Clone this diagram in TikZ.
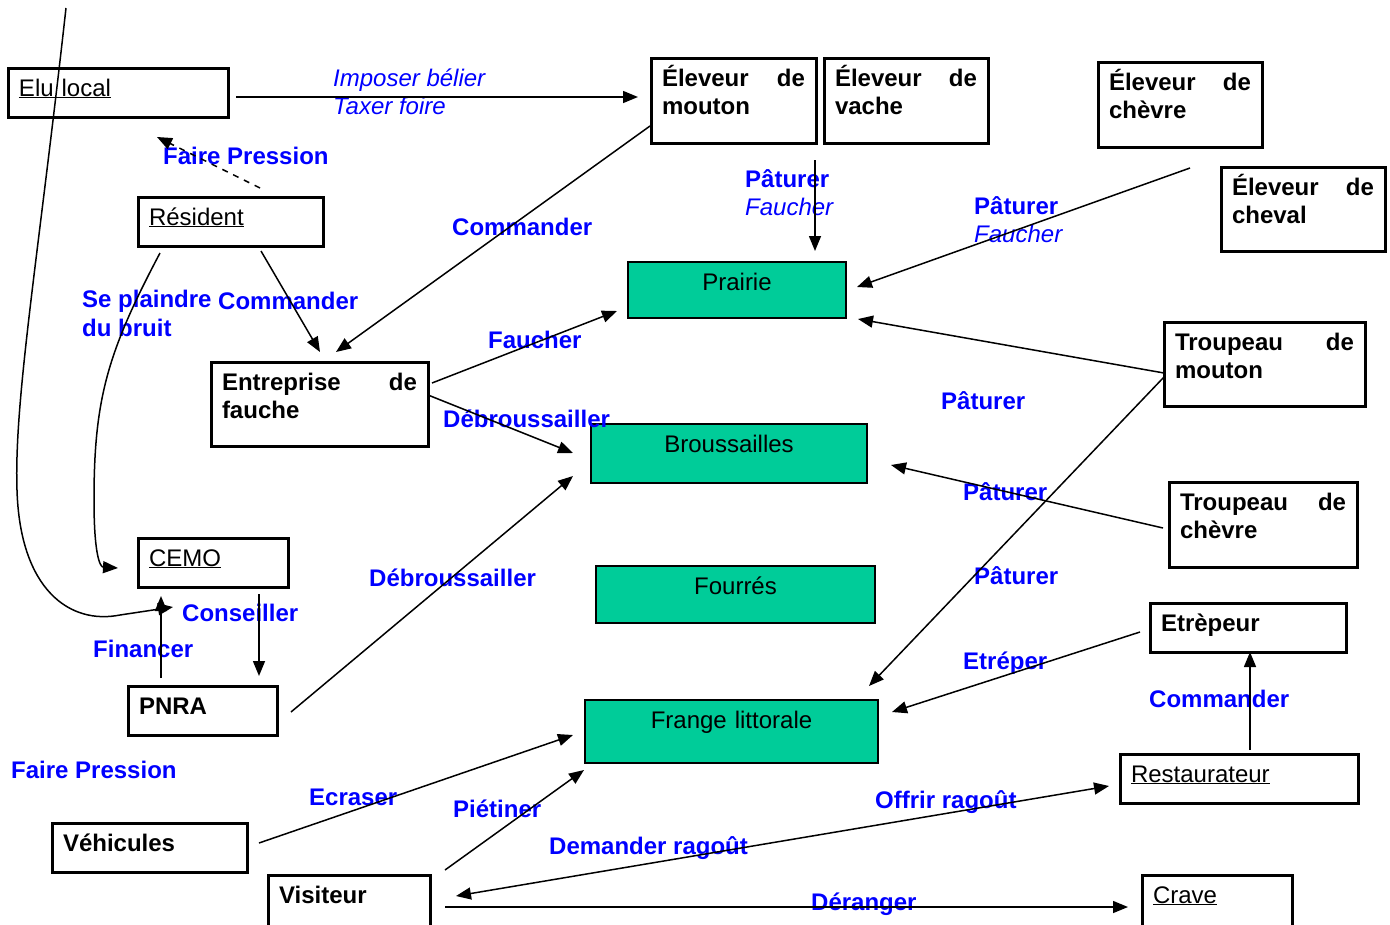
\documentclass[tikz,border=0pt]{standalone}
\usepackage{fontspec}
\setmainfont{Liberation Sans}
\usetikzlibrary{arrows.meta,calc}
\definecolor{gfill}{RGB}{0,204,153}
\definecolor{lblue}{RGB}{0,0,255}
\begin{document}
\begin{tikzpicture}[x=1pt,y=-1pt,
  every node/.style={font=\fontsize{24}{28}\selectfont},
  box/.style={draw, line width=3pt, anchor=north west, outer sep=0pt, inner xsep=11pt, inner ysep=0pt, align=left, text height=28pt},
  bbox/.style={box, font=\fontsize{24}{28}\selectfont\bfseries},
  gbox/.style={draw, fill=gfill, line width=1.8pt, anchor=north west, outer sep=0pt, inner xsep=11pt, inner ysep=0pt, align=center, text height=28pt},
  lbl/.style={text=lblue, font=\fontsize{24}{29}\selectfont\bfseries, anchor=base west, inner sep=0pt, align=left},
  ilbl/.style={text=lblue, font=\fontsize{24}{28}\selectfont\itshape, anchor=base west, inner sep=0pt},
  conn/.style={line width=1.5pt, -{Triangle[length=15pt,width=12pt]}},
  dconn/.style={line width=1.5pt, {Triangle[length=15pt,width=12pt]}-{Triangle[length=15pt,width=12pt]}},
]
\useasboundingbox (0,0) rectangle (1390,924);

% boxes
\node[box, text width=198pt, text depth=21pt] (elu) at (8,68) {\underline{Elu local}};
\node[box, text width=163pt, text depth=21pt] (res) at (138,197) {\underline{Résident}};
\node[bbox, text width=195pt, text depth=56pt] (ent) at (211,362) {Entreprise\hfill de\\fauche};
\node[box, text width=128pt, text depth=21pt] (cemo) at (138,538) {\underline{CEMO}};
\node[bbox, text width=127pt, text depth=21pt] (pnra) at (128,686) {PNRA};
\node[bbox, text width=173pt, text depth=21pt] (veh) at (52,823) {Véhicules};
\node[bbox, text width=140pt, text depth=32pt] (vis) at (268,875) {Visiteur};
\node[bbox, text width=143pt, text depth=57pt] (emou) at (651,58) {Éleveur\hfill de\\mouton};
\node[bbox, text width=142pt, text depth=57pt] (evac) at (824,58) {Éleveur\hfill de\\vache};
\node[bbox, text width=142pt, text depth=57pt] (eche) at (1098,62) {Éleveur\hfill de\\chèvre};
\node[bbox, text width=142pt, text depth=56pt] (echl) at (1221,167) {Éleveur\hfill de\\cheval};
\node[bbox, text width=179pt, text depth=56pt] (tmou) at (1164,322) {Troupeau\hfill de\\mouton};
\node[bbox, text width=166pt, text depth=57pt] (tche) at (1169,482) {Troupeau\hfill de\\chèvre};
\node[bbox, text width=174pt, text depth=21pt] (etr) at (1150,603) {Etrèpeur};
\node[box, text width=216pt, text depth=21pt] (rest) at (1120,754) {\underline{Restaurateur}};
\node[box, text width=128pt, text depth=32pt] (crave) at (1142,875) {\underline{Crave}};
\node[gbox, text width=196pt, text depth=28pt] (prai) at (628,262) {Prairie};
\node[gbox, text width=254pt, text depth=31pt] (brou) at (591,424) {Broussailles};
\node[gbox, text width=257pt, text depth=29pt] (four) at (596,566) {Fourrés};
\node[gbox, text width=271pt, text depth=35pt] (frange) at (585,700) {Frange littorale};

% labels
\node[ilbl] (l1) at (333,86) {Imposer bélier};
\node[ilbl] (l2) at (333,114) {Taxer foire};
\node[lbl] (l3) at (163,164) {Faire Pression};
\node[lbl] (l4) at (82,336) {Se plaindre\\du bruit};
\node[lbl] (l5) at (218,309) {Commander};
\node[lbl] (l6) at (452,235) {Commander};
\node[lbl] (l7) at (488,348) {Faucher};
\node[lbl] (l8) at (443,427) {Débroussailler};
\node[lbl] (l9) at (369,586) {Débroussailler};
\node[lbl] (l10) at (745,187) {Pâturer};
\node[ilbl] (l11) at (745,215) {Faucher};
\node[lbl] (l12) at (974,214) {Pâturer};
\node[ilbl] (l13) at (974,242) {Faucher};
\node[lbl] (l14) at (941,409) {Pâturer};
\node[lbl] (l15) at (963,500) {Pâturer};
\node[lbl] (l16) at (974,584) {Pâturer};
\node[lbl] (l17) at (963,669) {Etréper};
\node[lbl] (l18) at (1149,707) {Commander};
\node[lbl] (l19) at (182,621) {Conseiller};
\node[lbl] (l20) at (93,657) {Financer};
\node[lbl] (l21) at (11,778) {Faire Pression};
\node[lbl] (l22) at (309,805) {Ecraser};
\node[lbl] (l23) at (453,817) {Piétiner};
\node[lbl] (l24) at (549,854) {Demander ragoût};
\node[lbl] (l25) at (875,808) {Offrir ragoût};
\node[lbl] (l26) at (811,910) {Déranger};

% connectors
\coordinate (top) at (66,8);
\draw[conn] ([shift={(228,29)}]elu.north west) -- ([shift={(-13,39)}]emou.north west);
\draw[conn] (top) .. controls (38,260) and (14,400) .. (17,490) .. controls (20,590) and (70,625) .. (120,615) -- ([shift={(35,69)}]cemo.north west);
\draw[conn, dash pattern=on 6pt off 6pt] ([shift={(122,-9)}]res.north west) -- ([shift={(149,69)}]elu.north west);
\draw[conn] ([shift={(22,56)}]res.north west) .. controls (107,353) and (94,400) .. (94,500) .. controls (94,555) and (100,567) .. ([shift={(-20,30)}]cemo.north west);
\draw[conn] ([shift={(123,54)}]res.north west) -- ([shift={(109,-10)}]ent.north west);
\draw[conn] ([shift={(-1,68)}]emou.north west) -- ([shift={(125,-10)}]ent.north west);
\draw[conn] ([shift={(221,21)}]ent.north west) -- ([shift={(-11,49)}]prai.north west);
\draw[conn] ([shift={(217,33)}]ent.north west) -- ([shift={(-18,29)}]brou.north west);
\draw[conn] ([shift={(163,26)}]pnra.north west) -- ([shift={(-18,52)}]brou.north west);
\draw[conn] ([shift={(164,102)}]emou.north west) -- ([shift={(187,-11)}]prai.north west);
\draw[conn] ([shift={(92,106)}]eche.north west) -- ([shift={(229,25)}]prai.north west);
\draw[conn] ([shift={(0,51)}]tmou.north west) -- ([shift={(230,57)}]prai.north west);
\draw[conn] ([shift={(0,55)}]tmou.north west) -- ([shift={(284,-14)}]frange.north west);
\draw[conn] ([shift={(-6,46)}]tche.north west) -- ([shift={(300,41)}]brou.north west);
\draw[conn] ([shift={(-10,29)}]etr.north west) -- ([shift={(307,12)}]frange.north west);
\draw[conn] ([shift={(130,-4)}]rest.north west) -- ([shift={(100,49)}]etr.north west);
\draw[conn] ([shift={(207,20)}]veh.north west) -- ([shift={(-12,35)}]frange.north west);
\draw[conn] ([shift={(177,-5)}]vis.north west) -- ([shift={(-1,70)}]frange.north west);
\draw[dconn] ([shift={(188,21)}]vis.north west) -- ([shift={(-11,32)}]rest.north west);
\draw[conn] ([shift={(177,32)}]vis.north west) -- ([shift={(-14,32)}]crave.north west);
\draw[conn] ([shift={(121,56)}]cemo.north west) -- ([shift={(131,-10)}]pnra.north west);
\draw[conn] ([shift={(33,-8)}]pnra.north west) -- ([shift={(23,58)}]cemo.north west);
\end{tikzpicture}
\end{document}
